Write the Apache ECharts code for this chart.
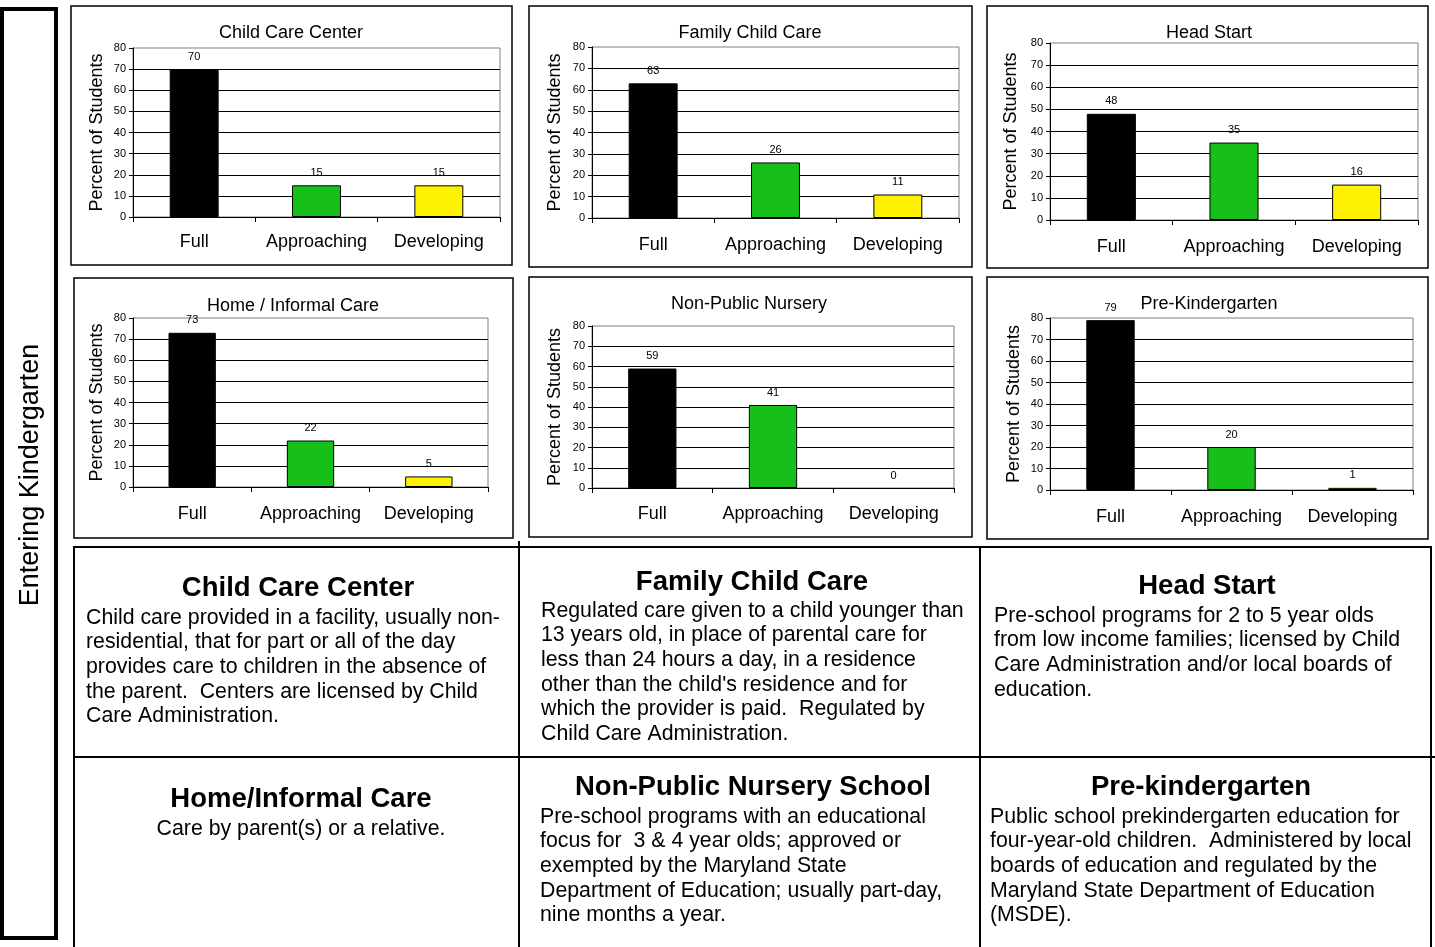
<!DOCTYPE html>
<html>
<head>
<meta charset="utf-8">
<script src="https://cdn.jsdelivr.net/npm/echarts@6/dist/echarts.min.js"></script>
<style>
html,body{margin:0;padding:0;background:#fff;}
#c{width:1435px;height:947px;}
</style>
</head>
<body>
<div id="c"></div>
<script>
// ---- data ----
const categories = ['Full', 'Approaching', 'Developing'];
const chartTitles = ['Child Care Center', 'Family Child Care', 'Head Start', 'Home / Informal Care', 'Non-Public Nursery', 'Pre-Kindergarten'];
const childCareCenter = [70, 15, 15];
const familyChildCare = [63, 26, 11];
const headStart = [48, 35, 16];
const homeInformalCare = [73, 22, 5];
const nonPublicNursery = [59, 41, 0];
const preKindergarten = [79, 20, 1];
const seriesValues = [childCareCenter, familyChildCare, headStart, homeInformalCare, nonPublicNursery, preKindergarten];
const yMin = 0, yMax = 80, yInterval = 10;
const yAxisTitle = 'Percent of Students';
const sideLabel = 'Entering Kindergarten';
const barColors = ['#000000', '#17BF1A', '#FFF200'];

const panelTitles = ['Child Care Center', 'Family Child Care', 'Head Start', 'Home/Informal Care', 'Non-Public Nursery School', 'Pre-kindergarten'];
const panelLines = [
  ['Child care provided in a facility, usually non-', 'residential, that for part or all of the day', 'provides care to children in the absence of', 'the parent.  Centers are licensed by Child', 'Care Administration.'],
  ['Regulated care given to a child younger than', '13 years old, in place of parental care for', 'less than 24 hours a day, in a residence', "other than the child's residence and for", 'which the provider is paid.  Regulated by', 'Child Care Administration.'],
  ['Pre-school programs for 2 to 5 year olds', 'from low income families; licensed by Child', 'Care Administration and/or local boards of', 'education.'],
  ['Care by parent(s) or a relative.'],
  ['Pre-school programs with an educational', 'focus for  3 & 4 year olds; approved or', 'exempted by the Maryland State', 'Department of Education; usually part-day,', 'nine months a year.'],
  ['Public school prekindergarten education for', 'four-year-old children.  Administered by local', 'boards of education and regulated by the', 'Maryland State Department of Education', '(MSDE).']
];

// ---- layout ----
const FONT = "'Liberation Sans', Arial, sans-serif";
const layouts = [
  {grid: {left: 133, top: 48, width: 367, height: 169}, title: [291, 33], labelMargin: 16, nameGap: 27, frame: [71, 6, 441, 259]},
  {grid: {left: 592, top: 47, width: 367, height: 171}, title: [750, 33], labelMargin: 18, nameGap: 28, frame: [529, 6, 443, 261]},
  {grid: {left: 1050, top: 43, width: 368, height: 177}, title: [1209, 33], labelMargin: 18, nameGap: 30, frame: [987, 6, 441, 262]},
  {grid: {left: 133, top: 318, width: 355, height: 169}, title: [293, 306], labelMargin: 18, nameGap: 27, frame: [74, 278, 439, 260]},
  {grid: {left: 592, top: 326, width: 362, height: 162}, title: [749, 304], labelMargin: 17, nameGap: 28, frame: [529, 277, 443, 260]},
  {grid: {left: 1050, top: 318, width: 363, height: 172}, title: [1209, 304], labelMargin: 18, nameGap: 27, frame: [987, 277, 441, 262]}
];
const panelLayouts = [
  {titleX: 298, titleY: 588, x: 86, y: 618, align: 'left'},
  {titleX: 752, titleY: 582, x: 541, y: 611, align: 'left'},
  {titleX: 1207, titleY: 586, x: 994, y: 616, align: 'left'},
  {titleX: 301, titleY: 799, x: 301, y: 829, align: 'center'},
  {titleX: 753, titleY: 787, x: 540, y: 817, align: 'left'},
  {titleX: 1201, titleY: 787, x: 990, y: 817, align: 'left'}
];
const LINE_H = 24.6;

const grids = [], xAxes = [], yAxes = [], series = [], graphics = [];

layouts.forEach((L, i) => {
  grids.push(Object.assign({show: true, borderColor: '#808080', borderWidth: 1, backgroundColor: 'transparent', containLabel: false}, L.grid));
  xAxes.push({
    type: 'category', gridIndex: i, data: categories,
    axisLine: {lineStyle: {color: '#000', width: 1}},
    axisTick: {show: true, length: 5, alignWithLabel: false, lineStyle: {color: '#000'}},
    axisLabel: {fontSize: 18, fontFamily: FONT, color: '#000', margin: L.labelMargin, interval: 0},
    splitLine: {show: false}
  });
  yAxes.push({
    type: 'value', gridIndex: i, min: yMin, max: yMax, interval: yInterval,
    name: yAxisTitle, nameLocation: 'middle', nameGap: L.nameGap,
    nameTextStyle: {fontSize: 18, fontFamily: FONT, color: '#000'},
    axisLine: {show: true, lineStyle: {color: '#000', width: 1}},
    axisTick: {show: true, length: 4, lineStyle: {color: '#000'}},
    axisLabel: {fontSize: 11, fontFamily: FONT, color: '#000', margin: 7},
    splitLine: {show: true, showMinLine: false, showMaxLine: false, lineStyle: {color: '#000', width: 1}}
  });
  series.push({
    type: 'bar', xAxisIndex: i, yAxisIndex: i, barWidth: '40%',
    data: seriesValues[i].map((v, k) => ({value: v, itemStyle: {color: barColors[k], borderWidth: v === 0 ? 0 : 1}})),
    itemStyle: {borderColor: '#000', borderWidth: 1},
    label: {show: true, position: 'top', distance: 7, fontSize: 11, fontFamily: FONT, color: '#000'},
    emphasis: {disabled: true},
    animation: false
  });
  graphics.push({type: 'rect', shape: {x: L.frame[0], y: L.frame[1], width: L.frame[2], height: L.frame[3]},
    style: {fill: 'none', stroke: '#000', lineWidth: 1.5}, silent: true});
  graphics.push({type: 'text', x: L.title[0], y: L.title[1],
    style: {text: chartTitles[i], fontSize: 18, fontFamily: FONT, fill: '#000', align: 'center', verticalAlign: 'middle'}});
});

// left vertical box and label
graphics.push({type: 'rect', shape: {x: 2, y: 9, width: 54, height: 929}, style: {fill: 'none', stroke: '#000', lineWidth: 4}, silent: true});
graphics.push({type: 'text', x: 31, y: 475, rotation: Math.PI / 2,
  style: {text: sideLabel, fontSize: 27, fontFamily: FONT, fill: '#000', align: 'center', verticalAlign: 'middle'}});

// description table
graphics.push({type: 'rect', shape: {x: 74, y: 547, width: 1357, height: 420}, style: {fill: 'none', stroke: '#000', lineWidth: 2}, silent: true});
graphics.push({type: 'line', shape: {x1: 519, y1: 541, x2: 519, y2: 947}, style: {stroke: '#000', lineWidth: 2}});
graphics.push({type: 'line', shape: {x1: 980, y1: 547, x2: 980, y2: 947}, style: {stroke: '#000', lineWidth: 2}});
graphics.push({type: 'line', shape: {x1: 74, y1: 757, x2: 1435, y2: 757}, style: {stroke: '#000', lineWidth: 2}});

panelLayouts.forEach((P, i) => {
  graphics.push({type: 'text', x: P.titleX, y: P.titleY,
    style: {text: panelTitles[i], fontSize: 27.5, fontWeight: 'bold', fontFamily: FONT, fill: '#000', align: 'center', verticalAlign: 'middle'}});
  panelLines[i].forEach((line, j) => {
    graphics.push({type: 'text', x: P.x, y: P.y + j * LINE_H,
      style: {text: line, fontSize: 21.3, fontFamily: FONT, fill: '#000', align: P.align, verticalAlign: 'middle'}});
  });
});

const chart = echarts.init(document.getElementById('c'));
chart.setOption({
  animation: false,
  backgroundColor: '#fff',
  grid: grids,
  xAxis: xAxes,
  yAxis: yAxes,
  series: series,
  graphic: {elements: graphics}
});
</script>
</body>
</html>
